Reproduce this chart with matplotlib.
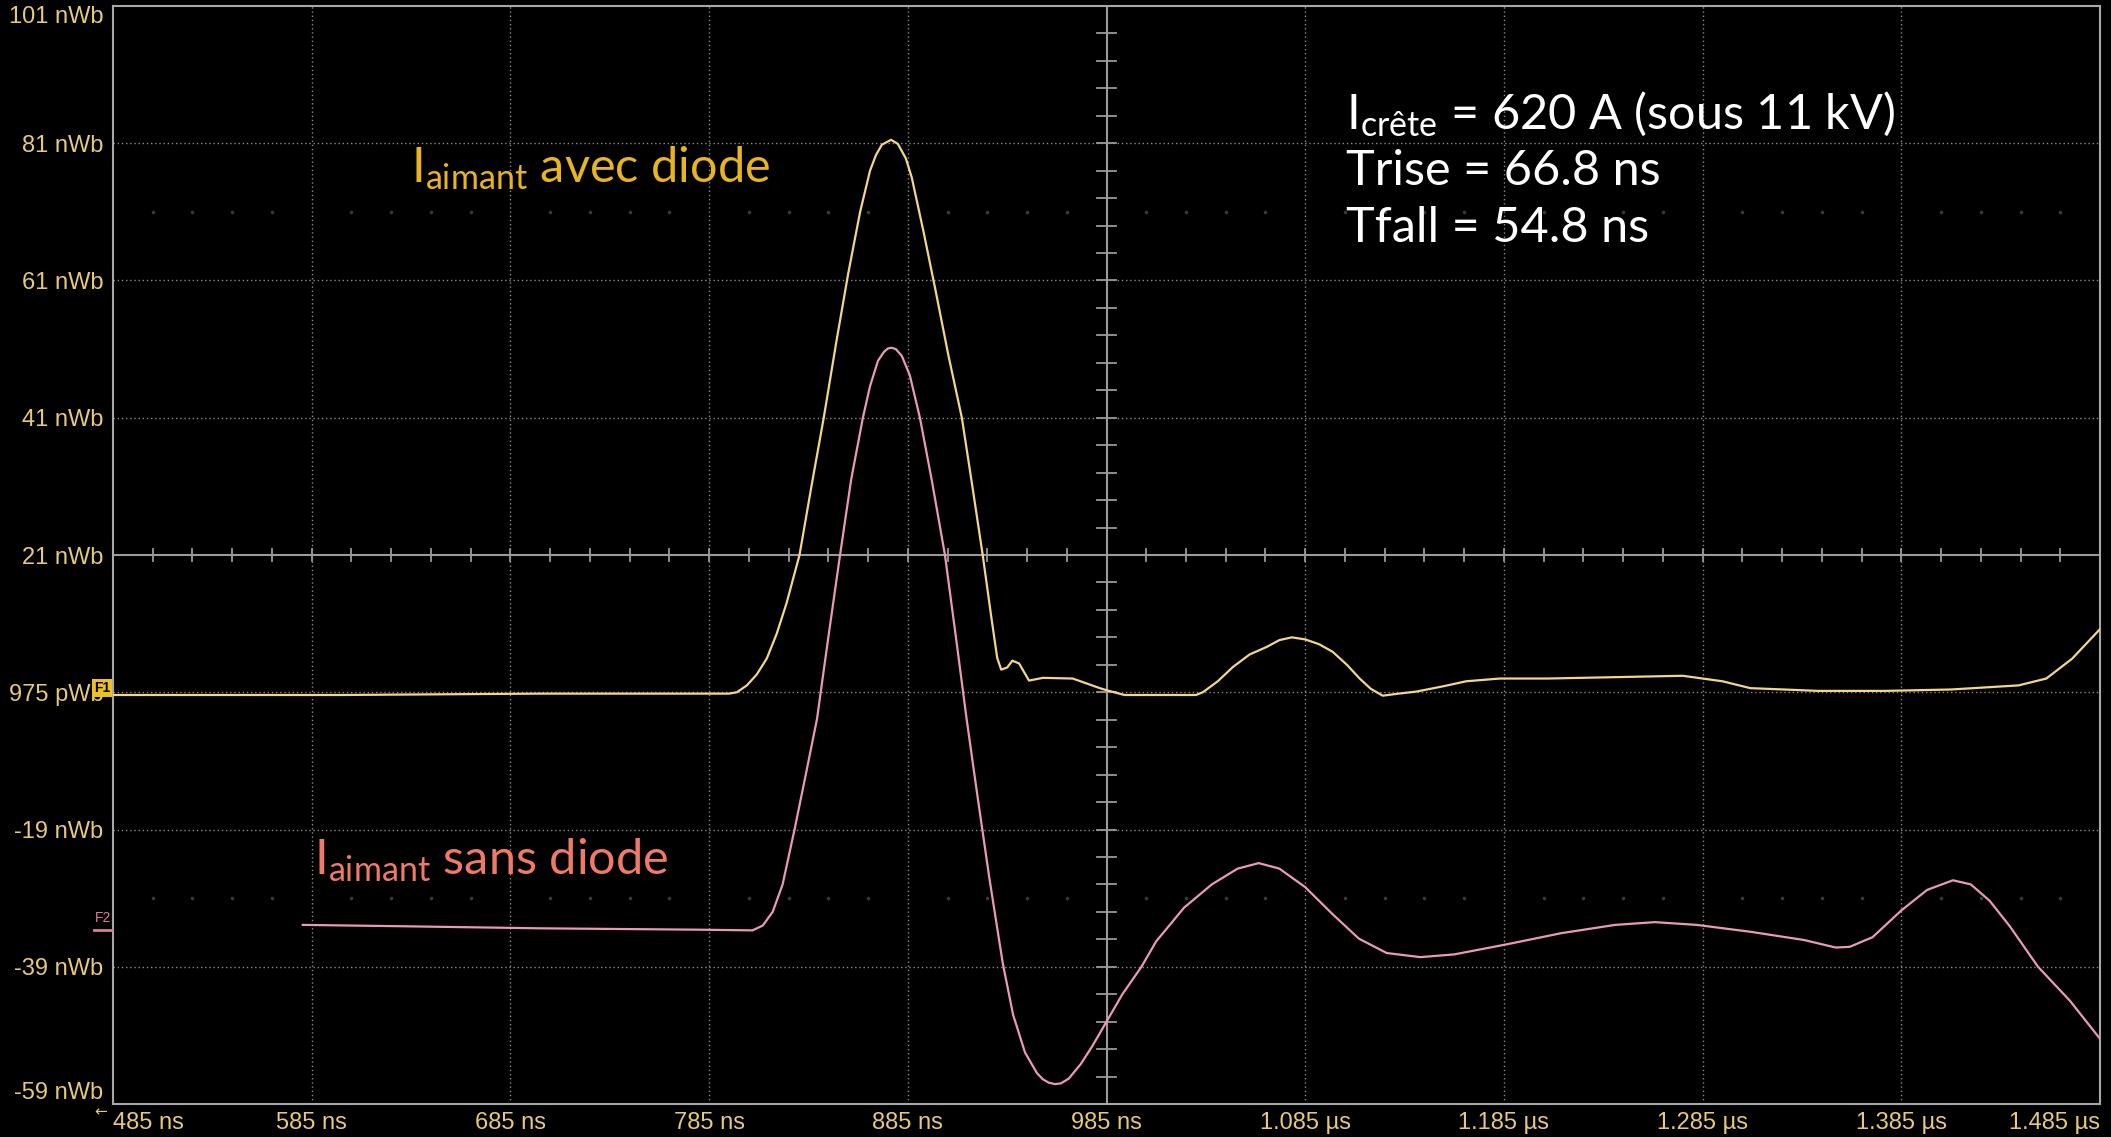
import numpy as np
import matplotlib
matplotlib.use('Agg')
import matplotlib.pyplot as plt

# --- data (time in ns, flux in nWb) ---
t_avec = [485, 600, 700, 795, 799, 804, 809, 814, 819, 824, 830.5, 836.5, 842.7, 849, 855, 861, 866, 869,
          872, 876.6, 880, 884, 887, 893, 899, 905.5, 912.2, 917.5, 922.7, 927, 930, 932, 935, 937.6, 941,
          946, 953, 968, 981.6, 985, 994, 1030, 1033.5, 1041, 1048.7, 1057, 1065.6, 1072, 1078.3, 1085, 1092,
          1098.8, 1106, 1112.4, 1118, 1124, 1132, 1141, 1155, 1166, 1183, 1207, 1241, 1275, 1295, 1309, 1343,
          1377, 1410, 1444, 1458, 1471, 1485]
v_avec = [0.6, 0.6, 0.8, 0.8, 1.0, 2.0, 3.6, 5.9, 9.5, 14, 21, 31, 41, 52, 62, 71, 77, 79.3,
          80.8, 81.5, 80.9, 78.8, 76, 68, 59.5, 50, 41, 31, 21, 12, 6, 4.3, 4.6, 5.6, 5.2,
          2.7, 3.1, 3.0, 1.6, 1.3, 0.6, 0.6, 1.0, 2.6, 4.7, 6.5, 7.6, 8.6, 9.0, 8.7, 8.0,
          6.9, 5.0, 3.0, 1.5, 0.5, 0.8, 1.1, 1.9, 2.6, 3.0, 3.0, 3.2, 3.4, 2.6, 1.6, 1.2,
          1.2, 1.4, 2.0, 3.0, 5.9, 10.2]

t_sans = [580.5, 631, 700, 780, 806.8, 812, 817, 822, 828, 834, 839.3, 845, 850.9, 856.5, 862.4, 866, 870,
          873, 875, 876.9, 879, 882, 886, 891.1, 897, 903.7, 909, 914.6, 920, 926, 932.8, 938, 944, 950,
          953, 956, 959, 962, 966, 972, 978, 985, 993, 1002.6, 1010, 1024, 1038, 1051, 1061.6, 1072, 1085,
          1099, 1112, 1126, 1143, 1160, 1187, 1214, 1241, 1261, 1282, 1309, 1336, 1352, 1359, 1370.5, 1385,
          1398, 1411, 1420, 1429.5, 1439.6, 1453.8, 1470, 1485]
v_sans = [-32.9, -33.1, -33.4, -33.6, -33.7, -33.0, -31.0, -27.0, -19.0, -10.5, -2.9, 9.0, 21.0, 32.0, 41.0, 45.6, 49.3,
          50.6, 51.1, 51.2, 51.0, 50.0, 47.2, 41.0, 32.0, 21.0, 9.5, -2.9, -14.0, -26.0, -38.5, -46.0, -51.5, -54.5,
          -55.4, -55.9, -56.1, -56.0, -55.3, -53.2, -50.5, -47.0, -43.0, -39.0, -35.3, -30.4, -27.0, -24.7, -23.9, -24.7, -27.4,
          -31.4, -34.9, -37.0, -37.6, -37.2, -35.7, -34.1, -32.9, -32.5, -32.9, -33.9, -35.1, -36.2, -36.1, -34.7, -30.8,
          -27.8, -26.4, -27.0, -29.4, -33.1, -39.0, -44.0, -49.5]

x_ticks = [485, 585, 685, 785, 885, 985, 1085, 1185, 1285, 1385, 1485]
x_labels = ['485 ns', '585 ns', '685 ns', '785 ns', '885 ns', '985 ns',
            '1.085 µs', '1.185 µs', '1.285 µs', '1.385 µs', '1.485 µs']
y_ticks = [101, 81, 61, 41, 21, 1, -19, -39, -59]
y_labels = ['101 nWb', '81 nWb', '61 nWb', '41 nWb', '21 nWb', '975 pWb', '-19 nWb', '-39 nWb', '-59 nWb']

info_lines = [r'$\mathregular{I_{crête}}$ = 620 A (sous 11 kV)', 'Trise = 66.8 ns', 'Tfall = 54.8 ns']

# --- style ---
plt.rcParams['mathtext.fontset'] = 'custom'
plt.rcParams['mathtext.rm'] = 'Lato'
plt.rcParams['mathtext.it'] = 'Lato'
plt.rcParams['mathtext.bf'] = 'Lato'
plt.rcParams['mathtext.default'] = 'regular'

W, H = 2111, 1137
fig = plt.figure(figsize=(W / 100, H / 100), dpi=100, facecolor='black')
ax = fig.add_axes([113 / W, 1 - 1104 / H, (2100 - 113) / W, (1104 - 6) / H])
ax.set_facecolor('black')
ax.set_xlim(485, 1485)
ax.set_ylim(-59, 101)

grid_col = '#8a8a8a'
lbl_col = '#e6c97a'
tick_font = ['Liberation Sans Narrow', 'Liberation Sans', 'DejaVu Sans']

# dotted grid (center cross drawn solid)
for x in x_ticks[1:-1]:
    if x != 985:
        ax.axvline(x, color=grid_col, lw=1.0, ls=(0, (1, 2)), zorder=1)
for y in y_ticks[1:-1]:
    if y != 21:
        ax.axhline(y, color=grid_col, lw=1.0, ls=(0, (1, 2)), zorder=1)
ax.axvline(985, color='#9a9a9a', lw=1.5, zorder=1)
ax.axhline(21, color='#9a9a9a', lw=1.5, zorder=1)

# small ticks on the center cross
for x in np.arange(485, 1486, 20):
    ax.plot([x, x], [21 - 0.9, 21 + 0.9], color='#9a9a9a', lw=1.3, zorder=1)
for y in np.arange(-59, 102, 4):
    ax.plot([985 - 5, 985 + 5], [y, y], color='#9a9a9a', lw=1.3, zorder=1)

# faint dotted rows of the scope screen
dots_x = [x for x in np.arange(485, 1486, 20) if (x - 485) % 100 != 0]
for y in [71, -29]:
    ax.plot(dots_x, [y] * len(dots_x), ls='none', marker='.', ms=3, color='#3a3a3a', zorder=0)

# traces
ax.plot(t_avec, v_avec, color='#f2d68c', lw=1.6, zorder=3)
ax.plot(t_sans, v_sans, color='#e99bb3', lw=1.6, zorder=3)

for s in ax.spines.values():
    s.set_color('#a8a8a8')
    s.set_linewidth(1.5)

# tick labels
ax.set_xticks(x_ticks)
ax.set_xticklabels(x_labels, color=lbl_col, fontsize=17, family=tick_font)
ax.set_yticks(y_ticks)
ax.set_yticklabels(y_labels, color=lbl_col, fontsize=17, family=tick_font)
ax.tick_params(length=0, pad=7)
ax.tick_params(axis='x', pad=6)
xl = ax.get_xticklabels()
xl[0].set_ha('left')
xl[-1].set_ha('right')
yl = ax.get_yticklabels()
yl[0].set_va('top')
yl[-1].set_va('bottom')

# scope markers
fig.text(107 / W, 1 - 1112 / H, '←', color=lbl_col, fontsize=11, ha='right', va='center')
fig.text(102 / W, 1 - 688 / H, 'F1', color='black', fontsize=10, ha='center', va='center', weight='bold',
         family=tick_font, bbox=dict(boxstyle='square,pad=0.15', fc='#f0c020', ec='none'))
fig.text(103 / W, 1 - 918 / H, 'F2', color='#e07aa0', fontsize=10, ha='center', va='center', family=tick_font)
fig.add_artist(plt.Line2D([94 / W, 112 / W], [1 - 930 / H] * 2, color='#e07aa0', lw=2))

# annotations
for i, line in enumerate(info_lines):
    fig.text(1346 / W, 1 - (128 + 57 * i) / H, line, color='white', fontsize=35, family='Lato',
             ha='left', va='baseline')
fig.text(411 / W, 1 - 182 / H, r'$\mathregular{I_{aimant}}$ avec diode', color='#e8b420', fontsize=35,
         family='Lato', ha='left', va='baseline')
fig.text(314 / W, 1 - 875 / H, r'$\mathregular{I_{aimant}}$ sans diode', color='#f07a68', fontsize=35,
         family='Lato', ha='left', va='baseline')

fig.savefig('out.png', dpi=100, facecolor='black')
